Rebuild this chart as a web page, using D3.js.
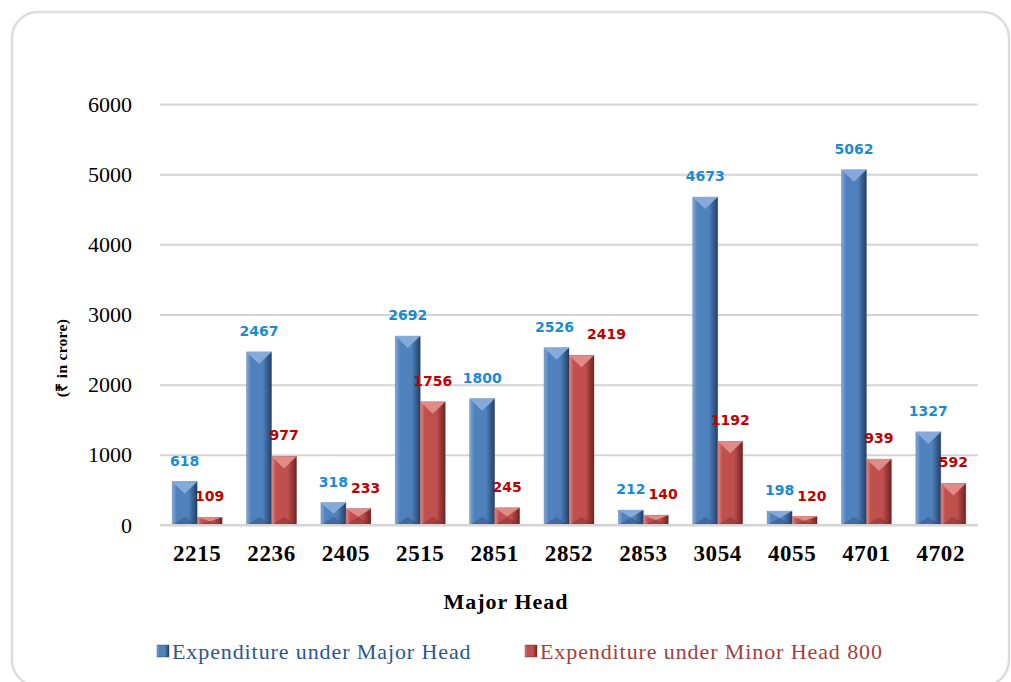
<!DOCTYPE html>
<html>
<head>
<meta charset="utf-8">
<script src="https://cdn.jsdelivr.net/npm/d3@7"></script>
<style>
  body { margin: 0; background: #fff; }
  svg { display: block; }
</style>
</head>
<body>
<svg id="chart" width="1011" height="682"></svg>
<script>
const categories = ['2215', '2236', '2405', '2515', '2851', '2852', '2853', '3054', '4055', '4701', '4702'];
const majorHead = [618, 2467, 318, 2692, 1800, 2526, 212, 4673, 198, 5062, 1327];
const minorHead800 = [109, 977, 233, 1756, 245, 2419, 140, 1192, 120, 939, 592];
const yTicks = [0, 1000, 2000, 3000, 4000, 5000, 6000];
const seriesNames = ['Expenditure under Major Head', 'Expenditure under Minor Head 800'];

const series = [
  { key: 'major', name: seriesNames[0], values: majorHead, base: '#4f81bd', light: '#84aadb', dark: '#243f66', label: '#1b8ad3', legend: '#2b5590' },
  { key: 'minor', name: seriesNames[1], values: minorHead800, base: '#c0504d', light: '#e08b88', dark: '#6e2321', label: '#c00000', legend: '#a23e3b' }
];

const svg = d3.select('#chart');

// outer frame
svg.append('rect')
  .attr('x', 12).attr('y', 12)
  .attr('width', 997).attr('height', 674)
  .attr('rx', 26)
  .attr('fill', '#fff')
  .attr('stroke', '#dcdcdc')
  .attr('stroke-width', 2.5);

const defs = svg.append('defs');
series.forEach(s => {
  const g = defs.append('linearGradient')
    .attr('id', 'grad-' + s.key)
    .attr('x1', '0%').attr('x2', '100%').attr('y1', '0%').attr('y2', '0%');
  g.append('stop').attr('offset', '0%').attr('stop-color', s.light);
  g.append('stop').attr('offset', '18%').attr('stop-color', s.base);
  g.append('stop').attr('offset', '65%').attr('stop-color', s.base);
  g.append('stop').attr('offset', '100%').attr('stop-color', s.dark);
});

const y = d3.scaleLinear().domain([0, 6000]).range([525, 104]);
const x = d3.scaleBand().domain(categories).range([160, 978]).paddingInner(0.328).paddingOuter(0.164);
const xInner = d3.scaleBand().domain(series.map(s => s.key)).range([0, x.bandwidth()]);
const bw = xInner.bandwidth();

// gridlines
const grid = d3.axisLeft(y).tickValues(yTicks).tickSize(-(978 - 160)).tickFormat('');
svg.append('g')
  .attr('transform', 'translate(160,0)')
  .call(grid)
  .call(g => g.select('.domain').remove())
  .call(g => g.selectAll('line').attr('stroke', '#d4d4d4').attr('stroke-width', 2));

// y tick labels
svg.append('g')
  .attr('transform', 'translate(160,0)')
  .call(d3.axisLeft(y).tickValues(yTicks).tickSize(0).tickPadding(28).tickFormat(d3.format('d')))
  .call(g => g.select('.domain').remove())
  .call(g => g.selectAll('text')
    .attr('font-family', '"Liberation Serif", "Times New Roman", serif')
    .attr('font-size', 22)
    .attr('fill', '#000'));

// x tick labels
svg.append('g')
  .attr('transform', 'translate(0,525)')
  .call(d3.axisBottom(x).tickSize(0).tickPadding(20))
  .call(g => g.select('.domain').remove())
  .call(g => g.selectAll('text')
    .attr('font-family', '"Liberation Serif", "Times New Roman", serif')
    .attr('font-size', 23)
    .attr('font-weight', 'bold')
    .attr('letter-spacing', 0.6)
    .attr('fill', '#000'));

// bars
const groups = svg.append('g').selectAll('g')
  .data(categories)
  .join('g')
  .attr('transform', d => `translate(${x(d)},0)`);

series.forEach(s => {
  const bars = groups.append('g')
    .attr('transform', `translate(${xInner(s.key)},0)`);
  bars.append('rect')
    .attr('x', 0)
    .attr('y', (d, i) => y(s.values[i]))
    .attr('width', bw)
    .attr('height', (d, i) => y(0) - y(s.values[i]))
    .attr('fill', `url(#grad-${s.key})`)
    .attr('stroke', s.dark)
    .attr('stroke-opacity', 0.35)
    .attr('stroke-width', 0.8);
  // top bevel
  bars.append('path')
    .attr('d', (d, i) => {
      const t = y(s.values[i]);
      const h = Math.min(12, (y(0) - t) / 2);
      return `M0,${t} L${bw},${t} L${bw / 2},${t + h} Z`;
    })
    .attr('fill', s.light);
  // bottom bevel
  bars.append('path')
    .attr('d', (d, i) => {
      const t = y(s.values[i]);
      const h = Math.min(8, (y(0) - t) / 2);
      return `M0,${y(0)} L${bw},${y(0)} L${bw / 2},${y(0) - h} Z`;
    })
    .attr('fill', s.dark)
    .attr('opacity', 0.35);
});

// value labels
const labelSets = series.map(s =>
  groups.append('text')
    .attr('class', 'val-' + s.key)
    .attr('x', xInner(s.key) + bw / 2)
    .attr('y', (d, i) => y(s.values[i]) - 16)
    .attr('text-anchor', 'middle')
    .attr('font-family', '"DejaVu Sans", Verdana, sans-serif')
    .attr('font-weight', 'bold')
    .attr('font-size', 14)
    .attr('fill', s.label)
    .text((d, i) => s.values[i])
);

// nudge the second label right when it would run into the first
const blueNodes = labelSets[0].nodes();
labelSets[1].each(function(d, i) {
  const dy = Math.abs(y(majorHead[i]) - y(minorHead800[i]));
  if (dy > 16) return;
  const wb = blueNodes[i].getComputedTextLength();
  const wr = this.getComputedTextLength();
  const overlap = (wb + wr) / 2 + 3 - bw;
  if (overlap <= 0) return;
  const shift = wr > 30 ? overlap + 8 : overlap;
  d3.select(this).attr('x', xInner('minor') + bw / 2 + shift);
  d3.select(blueNodes[i]).attr('x', xInner('major') + bw / 2 - (wr > 30 ? 2 : 0));
});

// axis line
svg.append('line')
  .attr('x1', 160).attr('x2', 978)
  .attr('y1', y(0)).attr('y2', y(0))
  .attr('stroke', '#d4d4d4').attr('stroke-width', 2);

// axis titles
svg.append('text')
  .attr('x', 506).attr('y', 609)
  .attr('text-anchor', 'middle')
  .attr('font-family', '"Liberation Serif", "Times New Roman", serif')
  .attr('font-weight', 'bold')
  .attr('font-size', 22)
  .attr('letter-spacing', 1)
  .text('Major Head');

svg.append('text')
  .attr('transform', 'translate(67,358) rotate(-90)')
  .attr('text-anchor', 'middle')
  .attr('font-family', '"Liberation Serif", "Times New Roman", serif')
  .attr('font-weight', 'bold')
  .attr('font-size', 15.5)
  .attr('letter-spacing', 0.3)
  .text('(₹ in crore)');

// legend
const legendX = [157, 525];
const legend = svg.append('g').selectAll('g')
  .data(series)
  .join('g')
  .attr('transform', (d, i) => `translate(${legendX[i]},645)`);
legend.append('rect')
  .attr('width', 12).attr('height', 12)
  .attr('fill', d => `url(#grad-${d.key})`)
  .attr('stroke', d => d.dark).attr('stroke-opacity', 0.4);
legend.append('text')
  .attr('x', 15).attr('y', 14)
  .attr('font-family', '"Liberation Serif", "Times New Roman", serif')
  .attr('font-size', 22)
  .attr('letter-spacing', 0.9)
  .attr('fill', d => d.legend)
  .text(d => d.name);
</script>
</body>
</html>
